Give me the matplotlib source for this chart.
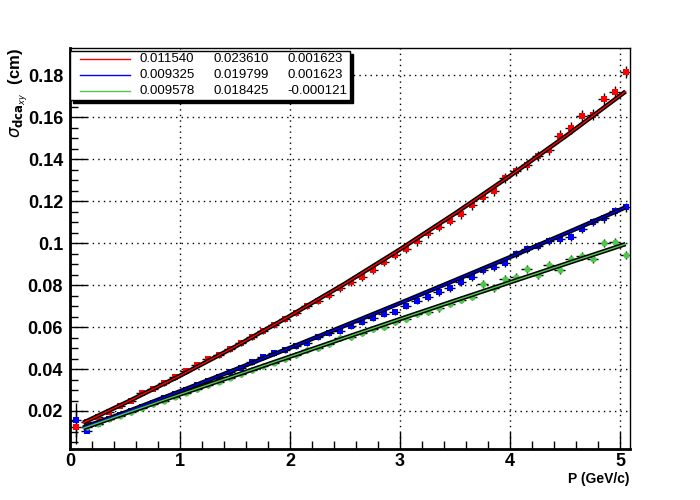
import numpy as np
import matplotlib
matplotlib.use("Agg")
import matplotlib.pyplot as plt
from matplotlib.ticker import MultipleLocator, FormatStrFormatter
from matplotlib.patches import Rectangle
from matplotlib.lines import Line2D

plt.rcParams["font.family"] = ["Liberation Sans", "DejaVu Sans"]

# momentum bins (GeV/c)
p_bins = np.round(np.arange(0.05, 5.06, 0.1), 2)

# measured sigma_dca (cm)
red_sigma = [0.0124, 0.0148, 0.0171, 0.0195, 0.0224, 0.0248, 0.0286, 0.0305, 0.0333, 0.0362,
             0.0390, 0.0419, 0.0448, 0.0467, 0.0495, 0.0524, 0.0552, 0.0581, 0.0610, 0.0638,
             0.0667, 0.0700, 0.0724, 0.0752, 0.0786, 0.0814, 0.0838, 0.0871, 0.0910, 0.0943,
             0.0971, 0.1008, 0.1046, 0.1076, 0.1105, 0.1138, 0.1181, 0.1219, 0.1246, 0.1310,
             0.1343, 0.1371, 0.1414, 0.1443, 0.1510, 0.1548, 0.1605, 0.1612, 0.1686, 0.1719,
             0.1814]
blue_sigma = [0.0157, 0.0105, 0.0140, 0.0160, 0.0180, 0.0201, 0.0219, 0.0240, 0.0262, 0.0281,
              0.0300, 0.0322, 0.0343, 0.0362, 0.0384, 0.0405, 0.0432, 0.0457, 0.0476, 0.0490,
              0.0510, 0.0524, 0.0552, 0.0571, 0.0581, 0.0605, 0.0624, 0.0643, 0.0662, 0.0671,
              0.0700, 0.0724, 0.0743, 0.0767, 0.0786, 0.0814, 0.0838, 0.0871, 0.0886, 0.0905,
              0.0948, 0.0971, 0.0986, 0.1010, 0.1019, 0.1029, 0.1067, 0.1100, 0.1119, 0.1152,
              0.1171]
green_sigma = [0.0126, 0.0140, 0.0160, 0.0176, 0.0193, 0.0212, 0.0231, 0.0250, 0.0268,
               0.0286, 0.0303, 0.0322, 0.0340, 0.0358, 0.0376, 0.0395, 0.0412, 0.0430, 0.0448,
               0.0467, 0.0490, 0.0500, 0.0518, 0.0548, 0.0552, 0.0572, 0.0590, 0.0600, 0.0624,
               0.0638, 0.0662, 0.0671, 0.0690, 0.0710, 0.0729, 0.0745, 0.0805, 0.0786, 0.0829,
               0.0838, 0.0876, 0.0848, 0.0895, 0.0871, 0.0924, 0.0938, 0.0924, 0.1000, 0.1005,
               0.0943]

# fitted curves
fit_p = [0.12, 0.5, 1.0, 1.5, 2.0, 2.5, 3.0, 3.5, 4.0, 4.5, 5.05]
red_fit = [0.0144, 0.0238, 0.0368, 0.0506, 0.0653, 0.0807, 0.0970, 0.1141, 0.1320, 0.1507, 0.1722]
blue_fit = [0.0122, 0.0193, 0.0294, 0.0397, 0.0501, 0.0607, 0.0714, 0.0823, 0.0933, 0.1045, 0.1170]
green_fit = [0.0118, 0.0188, 0.0279, 0.0369, 0.0459, 0.0549, 0.0638, 0.0726, 0.0813, 0.0900, 0.0995]

# fit parameters shown in the legend
fit_pars = [["0.011540", "0.023610", "0.001623"],
            ["0.009325", "0.019799", "0.001623"],
            ["0.009578", "0.018425", "-0.000121"]]

colors = ["#ff0000", "#0000ff", "#4cc94c"]
markers = ["s", "s", "o"]


def yerrs(vals):
    e = [0.0008 + 0.012 * v for v in vals]
    return e


fig = plt.figure(figsize=(7, 5), dpi=100)
ax = fig.add_axes([0.1, 0.102, 0.8, 0.802])

series = [(p_bins, red_sigma), (p_bins, blue_sigma), (p_bins[1:], green_sigma)]
for (xs, ys), c, m in zip(series, colors, markers):
    ye = yerrs(ys)
    if xs[0] < 0.1:
        ye[0] = 0.008
    ax.errorbar(xs, ys, xerr=0.05, yerr=ye, fmt="none", ecolor="black",
                elinewidth=1, capsize=0, zorder=2)
    ax.plot(xs, ys, linestyle="none", marker=m, markersize=4.5, color=c,
            markeredgewidth=0, zorder=3)

for fy, c in zip([red_fit, blue_fit, green_fit], colors):
    ax.plot(fit_p, fy, color="black", linewidth=3.2, zorder=4, solid_capstyle="butt")
    ax.plot(fit_p, fy, color=c, linewidth=1.0, zorder=5)

ax.set_xlim(0, 5.09)
ax.set_ylim(0.0019, 0.1929)

ax.xaxis.set_major_locator(MultipleLocator(1))
ax.xaxis.set_minor_locator(MultipleLocator(0.2))
ax.yaxis.set_major_locator(MultipleLocator(0.02))
ax.yaxis.set_minor_locator(MultipleLocator(0.005))
ax.xaxis.set_major_formatter(FormatStrFormatter("%g"))
ax.yaxis.set_major_formatter(FormatStrFormatter("%g"))

ax.tick_params(which="both", direction="in", top=False, right=False)
ax.tick_params(which="major", length=12, width=1, labelsize=13, pad=5)
ax.tick_params(axis="x", which="major", pad=3)
ax.tick_params(which="minor", length=6, width=1)
for lab in ax.get_xticklabels() + ax.get_yticklabels():
    lab.set_fontweight("bold")

ax.grid(True, which="major", color="black", linestyle=(0, (1, 3)), linewidth=1)
ax.set_axisbelow(True)

ax.spines["left"].set_linewidth(2)
ax.spines["bottom"].set_linewidth(2)
ax.spines["top"].set_linewidth(1)
ax.spines["right"].set_linewidth(1)

fig.text(0.9, 0.042, "P (GeV/c)", ha="right", va="center", fontsize=10, fontweight="bold")
fig.text(0.026, 0.903, r"$\sigma_{\mathbf{dca}_{xy}}$  (cm)", rotation=90, ha="center",
         va="top", fontsize=12, fontweight="bold")

# legend box with shadow (pixel coords -> figure fraction)
W, H = 700.0, 500.0
bx0, bx1, by0, by1 = 70, 350, 51, 100
shadow = Rectangle(((bx0 + 3) / W, 1 - (by1 + 3) / H), (bx1 - bx0) / W, (by1 - by0) / H,
                   transform=fig.transFigure, facecolor="black", edgecolor="black", zorder=10)
box = Rectangle((bx0 / W, 1 - by1 / H), (bx1 - bx0) / W, (by1 - by0) / H,
                transform=fig.transFigure, facecolor="white", edgecolor="black",
                linewidth=1, zorder=11)
fig.patches.extend([shadow, box])

row_y = [59, 75, 91]
col_x = [140, 213, 287]
for ry, c, pars in zip(row_y, colors, fit_pars):
    fig.lines.append(Line2D([80 / W, 130 / W], [1 - ry / H, 1 - ry / H], color=c,
                            linewidth=1, transform=fig.transFigure, zorder=12))
    for cx, t in zip(col_x, pars):
        fig.text(cx / W, 1 - ry / H, t, ha="left", va="center", fontsize=9.5, zorder=12)

fig.savefig("out.png", dpi=100)
